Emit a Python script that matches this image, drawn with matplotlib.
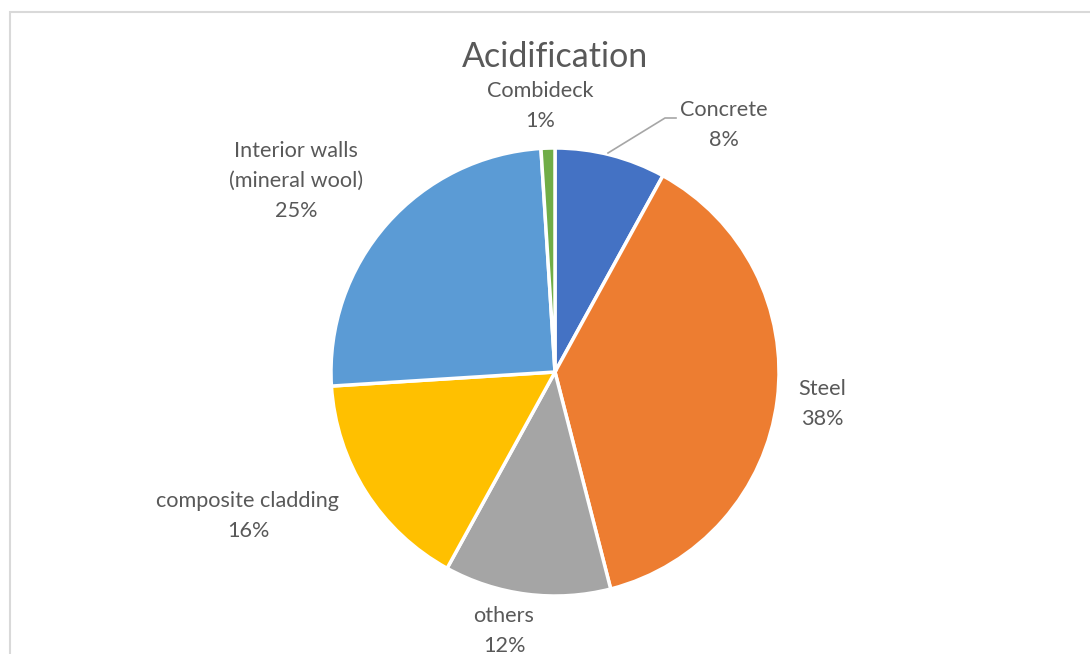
import matplotlib
matplotlib.use("Agg")
import matplotlib.pyplot as plt
from matplotlib.patches import Rectangle

# Share of acidification impact by building component
categories = ["Concrete", "Steel", "others", "composite cladding",
              "Interior walls\n(mineral wool)", "Combideck"]
shares = [8, 38, 12, 16, 25, 1]
colors = ["#4472C4", "#ED7D31", "#A5A5A5", "#FFC000", "#5B9BD5", "#70AD47"]

# label anchor points (pixel space, y measured from top)
label_xy = [(724, 125), (822, 404), (504, 631), (248, 516), (296, 181), (540, 106)]

W, H = 1090, 654
plt.rcParams["font.family"] = ["Lato", "DejaVu Sans"]
fig = plt.figure(figsize=(W / 100, H / 100), dpi=100)
ax = fig.add_axes([0, 0, 1, 1])

txt_color = "#595959"

ax.pie(shares, colors=colors, startangle=90, counterclock=False,
       center=(555, H - 372), radius=224,
       wedgeprops=dict(edgecolor="white", linewidth=2.5))

ax.set_xlim(0, W)
ax.set_ylim(0, H)
ax.set_aspect("equal")
ax.axis("off")

# chart-area frame
ax.add_patch(Rectangle((10, -20), W + 40, H - 12 + 20, fill=False,
                       edgecolor="#D9D9D9", linewidth=1.5))

ax.text(555, H - 57, "Acidification", ha="center", va="center",
        fontsize=24.5, color=txt_color)

for name, val, (x, y) in zip(categories, shares, label_xy):
    ax.text(x, H - y, f"{name}\n{val}%", ha="center", va="center",
            fontsize=15.6, color=txt_color, linespacing=1.6)

# leader line for the Concrete label
ax.plot([608, 665, 676], [H - 153, H - 118, H - 118], color="#A6A6A6", lw=1.2)

fig.savefig("out.png", dpi=100)
